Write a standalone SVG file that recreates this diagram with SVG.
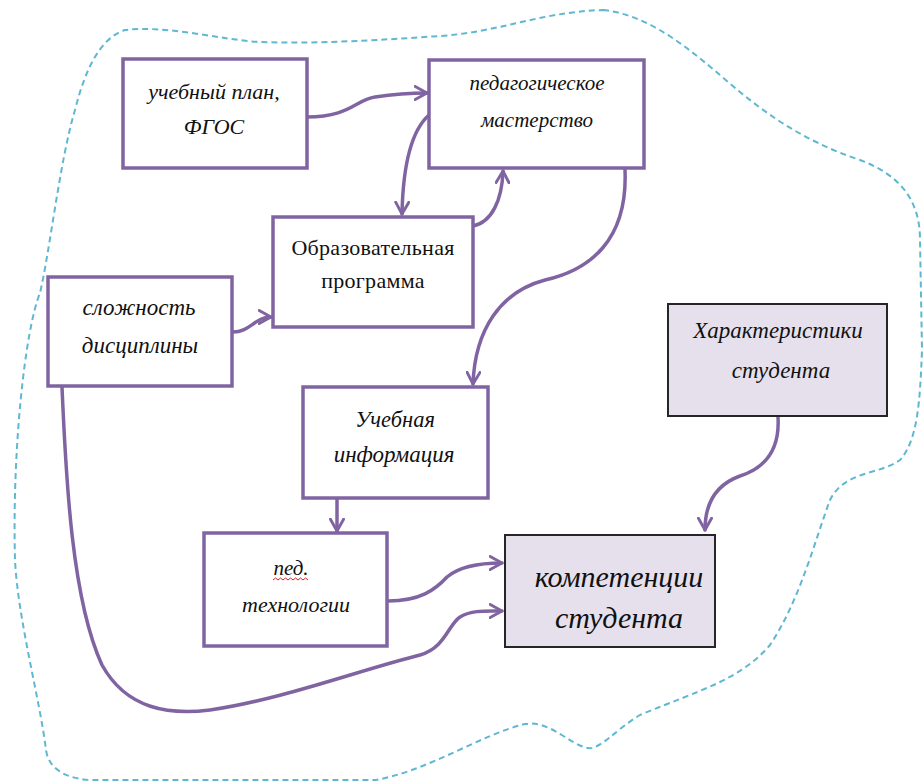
<svg xmlns="http://www.w3.org/2000/svg" width="923" height="783" viewBox="0 0 923 783">
<style>
.box{fill:#ffffff;stroke:#8064a2;stroke-width:3.5}
.box2{fill:#e5e0ec;stroke:#262626;stroke-width:2}
.t{font-family:"Liberation Serif","Times New Roman",serif;font-style:italic;fill:#111;text-anchor:middle}
.u{font-family:"Liberation Serif","Times New Roman",serif;fill:#111;text-anchor:middle}
.c{fill:none;stroke:#8064a2;stroke-width:3.5;stroke-linecap:round;marker-end:url(#ah)}
.outline{fill:none;stroke:#5fb8cf;stroke-width:2;stroke-dasharray:6 4}
</style>
<defs>
<marker id="ah" viewBox="0 0 12 12" refX="10" refY="6" markerWidth="4.5" markerHeight="4.5" orient="auto" markerUnits="strokeWidth">
<path d="M1,1 L10,6 L1,11" fill="none" stroke="#8064a2" stroke-width="2.2" stroke-linecap="round" stroke-linejoin="round"/>
</marker>
</defs>
<rect width="923" height="783" fill="#ffffff"/>
<path class="outline" d="M603,10 C650,15 690,50 720,75 C760,110 800,140 860,160 C900,175 920,200 920,240 L922,350 C920,400 918,440 900,460 C880,475 845,470 830,500 C815,540 800,600 770,645 C740,680 700,690 640,715 C615,730 600,750 588,748 C570,745 550,720 525,724 C480,735 430,770 376,780 L90,780 C60,778 48,765 46,750 C40,700 18,620 15,560 C12,450 25,330 40,293 C50,250 60,160 75,110 C85,70 100,38 125,30 C170,25 220,40 260,42 C320,44 380,40 440,36 C500,32 540,12 603,10 Z"/>
<g id="connectors">
<path class="c" d="M307,117 C350,117 355,100 375,97 C395,94 410,93 427,93"/>
<path class="c" d="M429,115 C412,130 403,165 402,214"/>
<path class="c" d="M473,226 C492,222 502,200 503,171"/>
<path class="c" d="M625,170 C628,240 590,270 545,280 C500,292 475,330 473,384"/>
<path class="c" d="M233,332 C250,332 255,317 271,317"/>
<path class="c" d="M337,498 L337,531"/>
<path class="c" d="M388,601 C420,601 435,590 447,577 C460,566 480,563 502,563"/>
<path class="c" d="M62,387 C66,480 72,600 102,665 C127,710 170,715 210,710 C280,700 360,670 420,655 C445,648 448,625 460,617 C472,610 485,611 502,611"/>
<path class="c" d="M778,417 C780,450 765,468 740,476 C715,485 705,505 705,530"/>
</g>
<g id="n1"><rect class="box" x="123" y="59" width="184" height="109"/>
<text class="t" x="214" y="99" font-size="22">учебный план,</text>
<text class="t" x="214" y="134" font-size="22">ФГОС</text></g>
<g id="n2"><rect class="box" x="429" y="60" width="215" height="108"/>
<text class="t" x="537" y="90" font-size="21">педагогическое</text>
<text class="t" x="537" y="127" font-size="21">мастерство</text></g>
<g id="n3"><rect class="box" x="273" y="217" width="200" height="110"/>
<text class="u" x="373" y="255" font-size="22" letter-spacing="0.3">Образовательная</text>
<text class="u" x="373" y="288" font-size="22" letter-spacing="0.3">программа</text></g>
<g id="n4"><rect class="box" x="48" y="277" width="184" height="109"/>
<text class="t" x="139" y="315" font-size="23">сложность</text>
<text class="t" x="140" y="353" font-size="23">дисциплины</text></g>
<g id="n5"><rect class="box" x="303" y="387" width="185" height="111"/>
<text class="t" x="395" y="427" font-size="22.5">Учебная</text>
<text class="t" x="394" y="462" font-size="23">информация</text></g>
<g id="n6"><rect class="box" x="204" y="533" width="183" height="113"/>
<text class="t" x="291" y="575" font-size="21">пед.</text>
<path d="M273,580 l2.5,-2 l2.5,2 l2.5,-2 l2.5,2 l2.5,-2 l2.5,2 l2.5,-2 l2.5,2 l2.5,-2 l2.5,2 l2.5,-2 l2.5,2 l2.5,-2 l2.5,2" fill="none" stroke="#e02020" stroke-width="1"/>
<text class="t" x="296" y="612" font-size="22">технологии</text></g>
<g id="n7"><rect class="box2" x="505" y="535" width="210" height="112"/>
<text class="t" x="619" y="587" font-size="30">компетенции</text>
<text class="t" x="619" y="628" font-size="30">студента</text></g>
<g id="n8"><rect class="box2" x="668" y="304" width="219" height="112"/>
<text class="t" x="778" y="338" font-size="23">Характеристики</text>
<text class="t" x="781" y="378" font-size="23">студента</text></g>
</svg>
